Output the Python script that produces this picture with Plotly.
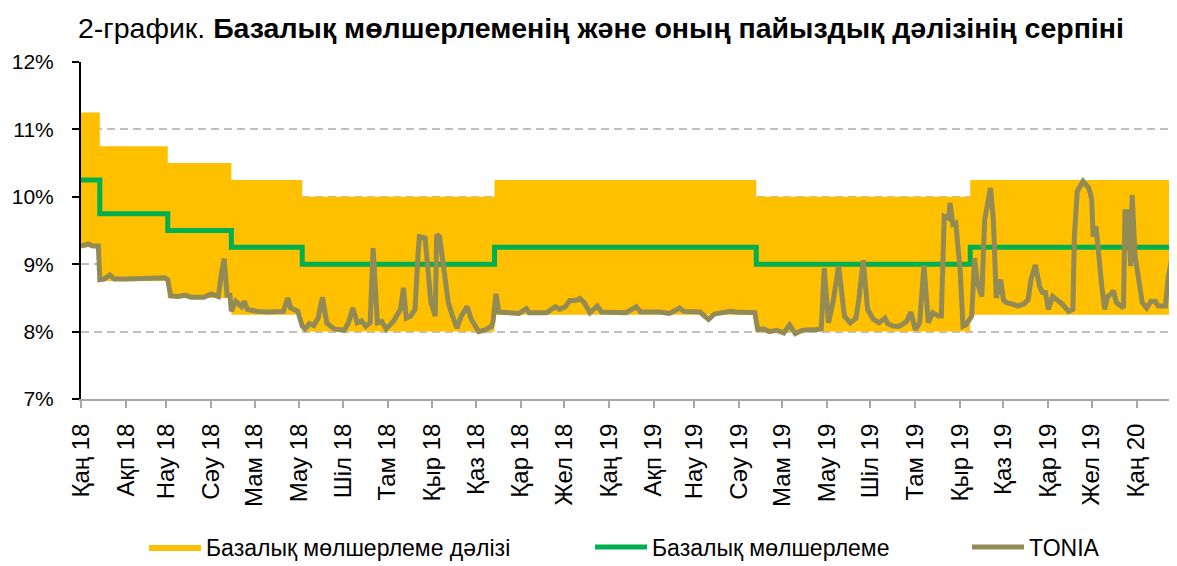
import plotly.graph_objects as go

# ---------------- data ----------------
rate_dates = ['2018-01-01', '2018-01-14', '2018-03-02', '2018-04-15', '2018-06-03',
              '2018-10-14', '2019-04-13', '2019-09-08', '2020-01-29']
base_rate = [10.25, 9.75, 9.5, 9.25, 9.0, 9.25, 9.0, 9.25, 9.25]
corridor_upper = [11.25, 10.75, 10.5, 10.25, 10.0, 10.25, 10.0, 10.25, 10.25]
corridor_lower = [9.25, 8.75, 8.5, 8.25, 8.0, 8.25, 8.0, 8.25, 8.25]

tonia_dates = [
    '2018-01-01', '2018-01-06', '2018-01-09', '2018-01-13', '2018-01-14', '2018-01-17', '2018-01-21',
    '2018-01-24', '2018-02-02', '2018-02-10', '2018-02-23', '2018-02-28', '2018-03-02', '2018-03-04',
    '2018-03-09', '2018-03-14', '2018-03-18', '2018-03-27', '2018-04-01', '2018-04-06', '2018-04-08',
    '2018-04-10', '2018-04-12', '2018-04-14', '2018-04-15', '2018-04-18', '2018-04-22', '2018-04-24',
    '2018-04-26', '2018-05-03', '2018-05-10', '2018-05-17', '2018-05-21', '2018-05-24', '2018-05-26',
    '2018-05-31', '2018-06-03', '2018-06-05', '2018-06-08', '2018-06-11', '2018-06-14', '2018-06-17',
    '2018-06-20', '2018-06-25', '2018-07-02', '2018-07-05', '2018-07-08', '2018-07-11', '2018-07-14',
    '2018-07-17', '2018-07-20', '2018-07-22', '2018-07-25', '2018-07-28', '2018-07-31', '2018-08-05',
    '2018-08-07', '2018-08-10', '2018-08-12', '2018-08-14', '2018-08-17', '2018-08-20', '2018-08-22',
    '2018-08-23', '2018-08-27', '2018-08-29', '2018-08-31', '2018-09-03', '2018-09-04', '2018-09-06',
    '2018-09-10', '2018-09-12', '2018-09-15', '2018-09-18', '2018-09-21', '2018-09-25', '2018-09-28',
    '2018-10-03', '2018-10-07', '2018-10-12', '2018-10-13', '2018-10-15', '2018-10-17', '2018-10-25',
    '2018-10-31', '2018-11-05', '2018-11-07', '2018-11-19', '2018-11-25', '2018-11-28', '2018-12-02',
    '2018-12-05', '2018-12-09', '2018-12-12', '2018-12-15', '2018-12-19', '2018-12-24', '2018-12-27',
    '2019-01-02', '2019-01-13', '2019-01-20', '2019-01-23', '2019-02-05', '2019-02-12', '2019-02-19',
    '2019-02-22', '2019-03-05', '2019-03-11', '2019-03-15', '2019-03-26', '2019-03-30', '2019-04-12',
    '2019-04-14', '2019-04-18', '2019-04-22', '2019-04-27', '2019-05-02', '2019-05-06', '2019-05-10',
    '2019-05-15', '2019-05-25', '2019-05-28', '2019-05-30', '2019-06-02', '2019-06-05', '2019-06-09',
    '2019-06-13', '2019-06-17', '2019-06-21', '2019-06-23', '2019-06-26', '2019-06-29', '2019-07-03',
    '2019-07-07', '2019-07-11', '2019-07-13', '2019-07-17', '2019-07-21', '2019-07-26', '2019-07-29',
    '2019-08-01', '2019-08-04', '2019-08-07', '2019-08-10', '2019-08-13', '2019-08-17', '2019-08-19',
    '2019-08-21', '2019-08-24', '2019-08-25', '2019-08-27', '2019-08-29', '2019-09-01', '2019-09-03',
    '2019-09-05', '2019-09-09', '2019-09-11', '2019-09-13', '2019-09-16', '2019-09-18', '2019-09-22',
    '2019-09-24', '2019-09-26', '2019-09-29', '2019-10-01', '2019-10-03', '2019-10-07', '2019-10-11',
    '2019-10-15', '2019-10-18', '2019-10-20', '2019-10-23', '2019-10-26', '2019-10-28', '2019-10-30',
    '2019-11-01', '2019-11-04', '2019-11-08', '2019-11-11', '2019-11-15', '2019-11-18', '2019-11-19',
    '2019-11-21', '2019-11-25', '2019-11-29', '2019-12-01', '2019-12-02', '2019-12-04', '2019-12-06',
    '2019-12-08', '2019-12-10', '2019-12-12', '2019-12-15', '2019-12-16', '2019-12-18', '2019-12-21',
    '2019-12-23', '2019-12-24', '2019-12-26', '2019-12-28', '2019-12-29', '2019-12-31', '2020-01-02',
    '2020-01-05', '2020-01-08', '2020-01-11', '2020-01-14', '2020-01-16', '2020-01-21', '2020-01-23',
    '2020-01-25', '2020-01-27', '2020-01-29',
]
tonia_values = [
    9.27, 9.30, 9.27, 9.27, 8.77, 8.78, 8.84,
    8.78, 8.78, 8.79, 8.79, 8.80, 8.77, 8.53,
    8.52, 8.54, 8.51, 8.51, 8.56, 8.52, 8.85,
    9.08, 8.54, 8.54, 8.30, 8.45, 8.37, 8.45,
    8.33, 8.30, 8.29, 8.29, 8.30, 8.50, 8.35,
    8.30, 8.08, 8.04, 8.12, 8.09, 8.20, 8.51,
    8.13, 8.04, 8.02, 8.13, 8.35, 8.13, 8.16,
    8.08, 8.13, 9.24, 8.13, 8.15, 8.04, 8.15,
    8.23, 8.33, 8.65, 8.20, 8.23, 8.33, 9.12,
    9.41, 9.39, 8.92, 8.43, 8.23, 9.44, 9.41,
    8.67, 8.43, 8.23, 8.05, 8.23, 8.37, 8.18,
    8.00, 8.02, 8.08, 8.15, 8.56, 8.29, 8.28,
    8.27, 8.34, 8.28, 8.28, 8.37, 8.33, 8.37,
    8.46, 8.46, 8.49, 8.43, 8.28, 8.38, 8.29,
    8.28, 8.28, 8.37, 8.29, 8.29, 8.27, 8.35,
    8.30, 8.29, 8.18, 8.26, 8.30, 8.29, 8.28,
    8.03, 8.04, 8.00, 8.02, 7.98, 8.10, 7.97,
    8.02, 8.03, 8.04, 8.94, 8.13, 8.43, 8.97,
    8.23, 8.13, 8.20, 8.49, 9.06, 8.33, 8.18,
    8.13, 8.20, 8.12, 8.08, 8.08, 8.15, 8.29,
    8.03, 8.13, 8.98, 8.13, 8.28, 8.23, 8.23,
    9.71, 9.68, 9.91, 9.59, 9.61, 8.92, 8.08,
    8.10, 8.23, 9.09, 8.72, 8.52, 9.66, 10.13,
    9.66, 8.50, 8.77, 8.47, 8.43, 8.41, 8.38,
    8.41, 8.47, 8.77, 8.99, 8.67, 8.58, 8.58,
    8.33, 8.52, 8.45, 8.40, 8.30, 8.33, 9.41,
    10.08, 10.23, 10.13, 9.97, 9.41, 9.56, 9.02,
    8.67, 8.33, 8.52, 8.57, 8.61, 8.43, 8.38,
    8.35, 9.78, 9.78, 8.97, 10.03, 9.12, 8.82,
    8.43, 8.35, 8.45, 8.45, 8.38, 8.38, 8.82,
    9.04, 9.34, 9.27,
]

tick_dates = ['2018-%02d-01' % m for m in range(1, 13)] + \
             ['2019-%02d-01' % m for m in range(1, 13)] + ['2020-01-01']
month_names = ['Қаң', 'Ақп', 'Нау', 'Сәу', 'Мам', 'Мау', 'Шіл', 'Там', 'Қыр', 'Қаз', 'Қар', 'Жел']
tick_text = [f'{m} 18' for m in month_names] + [f'{m} 19' for m in month_names] + ['Қаң 20']

series_names = ['Базалық мөлшерлеме дәлізі', 'Базалық мөлшерлеме', 'TONIA']
title_plain = '2-график. '
title_bold = 'Базалық мөлшерлеменің және оның пайыздық дәлізінің серпіні'

YELLOW = '#FFC000'
GREEN = '#00B050'
OLIVE = '#948A54'
FONT = 'Liberation Sans, Arial, sans-serif'

# The page body has an 8px margin, so the figure is sized to the visible area.
W, H = 1169, 558
L, T, B = 73, 54, 167

fig = go.Figure()
fig.add_trace(go.Scatter(x=rate_dates, y=corridor_lower, mode='lines', line=dict(width=0, shape='hv'),
                         showlegend=False, hoverinfo='skip'))
fig.add_trace(go.Scatter(x=rate_dates, y=corridor_upper, mode='lines', line=dict(width=0, shape='hv'),
                         fill='tonexty', fillcolor=YELLOW, name=series_names[0], legend='legend'))
fig.add_trace(go.Scatter(x=rate_dates, y=base_rate, mode='lines', line=dict(color=GREEN, width=5, shape='hv'),
                         name=series_names[1], legend='legend2'))
fig.add_trace(go.Scatter(x=tonia_dates, y=tonia_values, mode='lines', line=dict(color=OLIVE, width=5),
                         name=series_names[2], legend='legend3'))

LEG_Y = 1 - 539 / H
legend_common = dict(orientation='h', xref='container', yref='container', yanchor='middle',
                     xanchor='left', font=dict(size=23, color='black', family=FONT),
                     bgcolor='rgba(0,0,0,0)', itemwidth=52)
fig.update_layout(
    width=W, height=H, autosize=False,
    margin=dict(l=L, r=0, t=T, b=B, pad=0),
    paper_bgcolor='white', plot_bgcolor='white',
    font=dict(family=FONT, color='black'),
    title=dict(text=f'{title_plain}<b>{title_bold}</b>', xref='container', yref='container',
               x=70 / W, xanchor='left', y=1 - 20 / H, yanchor='middle',
               font=dict(size=28.5, color='black', family=FONT)),
    legend=dict(x=136 / W, y=LEG_Y, **legend_common),
    legend2=dict(x=582 / W, y=LEG_Y, **legend_common),
    legend3=dict(x=959 / W, y=LEG_Y, **legend_common),
    xaxis=dict(type='date', range=['2018-01-01', '2020-01-29'], tickmode='array',
               tickvals=tick_dates, ticktext=tick_text, tickangle=-90,
               showgrid=False, showline=True, linecolor='#A6A6A6', linewidth=2,
               ticks='outside', ticklen=7, tickwidth=2, tickcolor='#A6A6A6',
               tickfont=dict(size=24, color='black', family=FONT), ticklabelstandoff=6,
               zeroline=False, fixedrange=True),
    yaxis=dict(range=[7, 12], tickmode='array', tickvals=[7, 8, 9, 10, 11, 12],
               ticktext=['7%', '8%', '9%', '10%', '11%', '12%'],
               showgrid=True, gridcolor='#BFBFBF', gridwidth=1.5, griddash='8px,5px',
               showline=True, linecolor='black', linewidth=2,
               ticks='outside', ticklen=7, tickwidth=2, tickcolor='black',
               tickfont=dict(size=21, color='black', family=FONT), ticklabelstandoff=14,
               zeroline=False, fixedrange=True),
)

fig.write_html('out.html')
